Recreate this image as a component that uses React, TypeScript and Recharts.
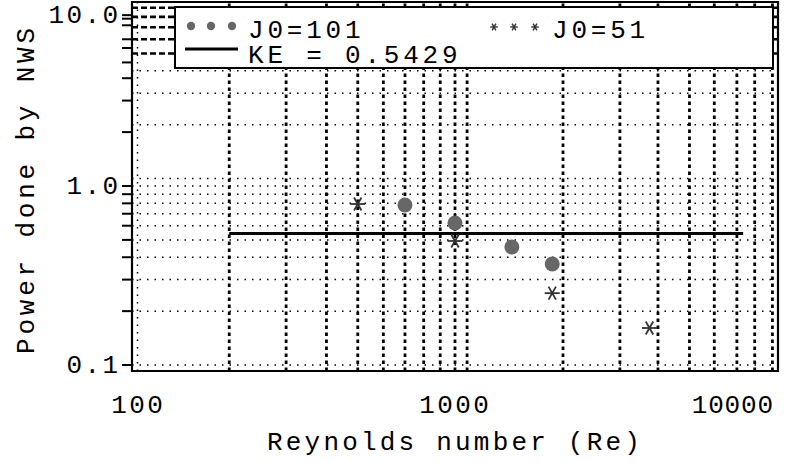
import React from "react";
import {
  ScatterChart,
  Scatter,
  XAxis,
  YAxis,
  ReferenceLine,
  ReferenceArea,
} from "recharts";

// ---- data ----
const reJ0_101 = [700, 1000, 1500, 2000];
const powerJ0_101 = [0.783, 0.621, 0.456, 0.367];
const reJ0_51 = [500, 1000, 2000, 4000];
const powerJ0_51 = [0.793, 0.493, 0.252, 0.161];
const keRe = [200, 7800];
const keValue = 0.5429;

const xTickValues = [100, 1000, 10000];
const xTickLabels = ["100", "1000", "10000"];
const yTickValues = [0.1, 0.2, 0.3, 0.4, 0.5, 0.6, 0.7, 0.8, 0.9, 1, 2, 3, 4, 4.9, 5.9, 6.6, 7.9, 8.6, 9.0];
const yTickLabels = ["0.1", "", "", "", "", "", "", "", "", "1.0", "", "", "", "", "", "", "", "", "10.0"];

const hGridDotted = [0.1, 0.2, 0.3, 0.4, 0.5, 0.6, 0.7, 0.8, 0.9, 1, 1.1, 2.2, 3.3, 4.4];
const hGridDashed = [5.5, 6.6, 7.7, 8.8, 9.9];
const vGridThin = [104];
const vGridThick = [200, 300, 400, 500, 600, 700, 800, 900, 1000, 1090, 2160, 3240, 4250, 5320, 6350, 7460, 8470, 9610];

const X_DOMAIN = [100, 10000];
const Y_DOMAIN = [0.0926, 10.66];

const j101Data = reJ0_101.map((re, i) => ({ re, p: powerJ0_101[i] }));
const j51Data = reJ0_51.map((re, i) => ({ re, p: powerJ0_51[i] }));
const keData = keRe.map((re) => ({ re, p: keValue }));

const FONT = "'Liberation Mono', 'Courier New', monospace";
const FS = 26;

const Asterisk = ({ cx, cy, r, color, w }: any) => {
  const dx = r * 0.5;
  const dy = r * 0.866;
  return (
    <g stroke={color} strokeWidth={w} strokeLinecap="butt">
      <line x1={cx - r} y1={cy} x2={cx + r} y2={cy} />
      <line x1={cx - dx} y1={cy - dy} x2={cx + dx} y2={cy + dy} />
      <line x1={cx - dx} y1={cy + dy} x2={cx + dx} y2={cy - dy} />
    </g>
  );
};

const CircleShape = (props: any) => (
  <circle cx={props.cx} cy={props.cy} r={7.5} fill="#676767" />
);
const StarShape = (props: any) => (
  <Asterisk cx={props.cx} cy={props.cy} r={7.5} color="#333" w={1.8} />
);
const NoShape = () => <g />;

const XTick = (props: any) => {
  const { x, y, payload } = props;
  const i = xTickValues.indexOf(payload.value);
  const label = xTickLabels[i] ?? "";
  let anchor: "middle" | "end" = "middle";
  let dx = 0;
  let spacing = 2.4;
  if (i === 0) dx = 5 + 1.2;
  if (i === 1) dx = -1 + 1.2;
  if (i === 2) {
    anchor = "end";
    spacing = 0.8;
    dx = -5 + 0.8;
  }
  return (
    <text
      x={x + dx}
      y={y + 42}
      textAnchor={anchor}
      fontFamily={FONT}
      fontSize={FS}
      letterSpacing={spacing}
      fill="#000"
    >
      {label}
    </text>
  );
};

const YTick = (props: any) => {
  const { x, y, payload } = props;
  const i = yTickValues.indexOf(payload.value);
  const label = yTickLabels[i] ?? "";
  return (
    <g>
      <line x1={x - 10} x2={x} y1={y} y2={y} stroke="#000" strokeWidth={2} />
      {label ? (
        <text
          x={x - 14 + 2.4}
          y={y + 8}
          textAnchor="end"
          fontFamily={FONT}
          fontSize={FS}
          letterSpacing={2.4}
          fill="#000"
        >
          {label}
        </text>
      ) : null}
    </g>
  );
};

export default function App() {
  return (
    <div
      style={{
        position: "absolute",
        left: 0,
        top: 0,
        width: 788,
        height: 462,
        background: "#fff",
      }}
    >
      <ScatterChart
        width={788}
        height={462}
        margin={{ top: 2, right: 10, bottom: 0, left: 0 }}
      >
        <XAxis
          type="number"
          dataKey="re"
          scale="log"
          domain={X_DOMAIN}
          allowDataOverflow
          ticks={xTickValues}
          interval={0}
          tick={<XTick />}
          tickLine={false}
          axisLine={false}
          tickSize={0}
          tickMargin={0}
          height={91}
        />
        <YAxis
          type="number"
          dataKey="p"
          scale="log"
          domain={Y_DOMAIN}
          allowDataOverflow
          ticks={yTickValues}
          interval={0}
          tick={<YTick />}
          tickLine={false}
          axisLine={false}
          tickSize={0}
          tickMargin={0}
          width={132}
        />
        {hGridDotted.map((v) => (
          <ReferenceLine
            key={"hd" + v}
            y={v}
            stroke="#000"
            strokeWidth={1.5}
            strokeDasharray="1.5 6"
          />
        ))}
        {hGridDashed.map((v) => (
          <ReferenceLine
            key={"hD" + v}
            y={v}
            stroke="#000"
            strokeWidth={2.6}
            strokeDasharray="6 3"
          />
        ))}
        {vGridThin.map((v) => (
          <ReferenceLine
            key={"vt" + v}
            x={v}
            stroke="#000"
            strokeWidth={1.5}
            strokeDasharray="1.5 6"
          />
        ))}
        {vGridThick.map((v) => (
          <ReferenceLine
            key={"vT" + v}
            x={v}
            stroke="#000"
            strokeWidth={2.8}
            strokeDasharray="3.5 3.5"
          />
        ))}
        <ReferenceArea
          x1={X_DOMAIN[0]}
          x2={X_DOMAIN[1]}
          y1={Y_DOMAIN[0]}
          y2={Y_DOMAIN[1]}
          fill="none"
          stroke="#000"
          strokeWidth={2.2}
          ifOverflow="visible"
        />
        <Scatter
          data={keData}
          dataKey="p"
          line={{ stroke: "#000", strokeWidth: 3 }}
          shape={NoShape}
          isAnimationActive={false}
        />
        <Scatter
          data={j101Data}
          dataKey="p"
          shape={CircleShape}
          isAnimationActive={false}
        />
        <Scatter
          data={j51Data}
          dataKey="p"
          shape={StarShape}
          isAnimationActive={false}
        />
      </ScatterChart>
      <svg
        width={788}
        height={462}
        style={{ position: "absolute", left: 0, top: 0, pointerEvents: "none" }}
      >
        {/* legend */}
        <rect x={175} y={7} width={598} height={61} fill="#fff" stroke="#000" strokeWidth={2} />
        <circle cx={191} cy={26} r={4.2} fill="#676767" />
        <circle cx={211} cy={26} r={4.2} fill="#676767" />
        <circle cx={232} cy={26} r={4.2} fill="#676767" />
        <text x={248} y={38} fontFamily={FONT} fontSize={FS} letterSpacing={3.8} fill="#000">
          J0=101
        </text>
        <Asterisk cx={494} cy={27} r={3.8} color="#333" w={1.4} />
        <Asterisk cx={514} cy={27} r={3.8} color="#333" w={1.4} />
        <Asterisk cx={535} cy={27} r={3.8} color="#333" w={1.4} />
        <text x={552} y={38} fontFamily={FONT} fontSize={FS} letterSpacing={3.8} fill="#000">
          J0=51
        </text>
        <line x1={185} y1={49} x2={238} y2={49} stroke="#000" strokeWidth={3} />
        <text x={248} y={63} fontFamily={FONT} fontSize={FS} letterSpacing={3.8} fill="#000" xmlSpace="preserve">
          KE = 0.5429
        </text>
        {/* axis titles */}
        <text x={267} y={450} fontFamily={FONT} fontSize={FS} letterSpacing={3.2} fill="#000" xmlSpace="preserve">
          Reynolds number (Re)
        </text>
        <text
          transform="translate(34, 354) rotate(-90)"
          fontFamily={FONT}
          fontSize={FS}
          letterSpacing={3.8}
          fill="#000"
          xmlSpace="preserve"
        >
          Power done by NWS
        </text>
      </svg>
    </div>
  );
}
